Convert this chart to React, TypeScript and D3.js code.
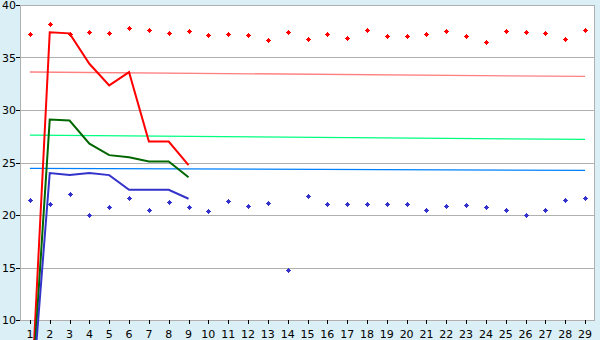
import React from "react";
import * as d3 from "d3";

const categories: number[] = Array.from({ length: 29 }, (_, i) => i + 1);
const yTicks: number[] = [10, 15, 20, 25, 30, 35, 40];

// scatter series (one value per category)
const redPoints: number[] = [
  37.2, 38.16, 37.2, 37.4, 37.3, 37.8, 37.6, 37.3, 37.5, 37.11,
  37.2, 37.11, 36.64, 37.4, 36.73, 37.2, 36.83, 37.59, 37.02, 37.02,
  37.2, 37.5, 37.0, 36.5, 37.5, 37.4, 37.3, 36.8, 37.6,
];
const bluePoints: number[] = [
  21.4, 21.05, 22.0, 20.0, 20.8, 21.6, 20.45, 21.2, 20.8, 20.35,
  21.3, 20.83, 21.11, 14.73, 21.78, 21.02, 21.02, 21.02, 21.02, 21.02,
  20.45, 20.9, 21.0, 20.8, 20.45, 20.0, 20.45, 21.4, 21.6,
];

// line series (categories 1..9)
const lineCategories: number[] = [1, 2, 3, 4, 5, 6, 7, 8, 9];
const redLine: number[] = [0, 37.4, 37.3, 34.4, 32.35, 33.6, 27.0, 27.0, 24.76];
const greenLine: number[] = [0, 29.1, 29.0, 26.8, 25.7, 25.5, 25.1, 25.1, 23.6];
const blueLine: number[] = [0, 24.0, 23.8, 24.0, 23.8, 22.4, 22.4, 22.4, 21.55];

// trend lines (value at first and last category)
const redTrend: number[] = [33.62, 33.2];
const greenTrend: number[] = [27.6, 27.2];
const blueTrend: number[] = [24.45, 24.25];

const W = 600;
const H = 340;
const left = 20;
const right = 595;
const top = 5;
const bottom = 320;

const x = d3.scalePoint<number>().domain(categories).range([left, right]).padding(0.5);
const y = d3.scaleLinear().domain([10, 40]).range([bottom, top]);

// plus marker: 3x3 centre with 1px arms, 5x5 overall
const markerPath =
  "M-0.5,-2.5h1v1h1v1h1v1h-1v1h-1v1h-1v-1h-1v-1h-1v-1h1v-1h1z";

export default function App() {
  const line = d3
    .line<number>()
    .x((_, i) => x(lineCategories[i]) as number)
    .y((d) => y(d));

  const trend = (vals: number[], color: string, key: string) => (
    <line
      key={key}
      x1={x(categories[0]) as number}
      x2={x(categories[categories.length - 1]) as number}
      y1={y(vals[0])}
      y2={y(vals[1])}
      stroke={color}
      strokeWidth={1.3}
    />
  );

  const font = "'DejaVu Sans', Verdana, sans-serif";
  const px = (v: number) => Math.round(v) + 0.5;

  return (
    <div style={{ position: "fixed", left: 0, top: 0, width: W, height: H }}>
      <svg width={W} height={H} style={{ display: "block" }}>
        <rect x={0} y={0} width={W} height={H} fill="#daeff6" />
        <rect x={left} y={top} width={right - left} height={bottom - top} fill="#ffffff" />
        {/* grid */}
        {yTicks.map((t) => (
          <line
            key={"g" + t}
            x1={left}
            x2={right}
            y1={px(y(t))}
            y2={px(y(t))}
            stroke="#b0b0b0"
            strokeWidth={1}
          />
        ))}
        <rect
          x={left + 0.5}
          y={top + 0.5}
          width={right - left - 1}
          height={bottom - top}
          fill="none"
          stroke="#b0b0b0"
          strokeWidth={1}
        />
        {/* y ticks */}
        {yTicks.map((t) => (
          <g key={"yt" + t}>
            <line x1={16} x2={left} y1={px(y(t))} y2={px(y(t))} stroke="#000" strokeWidth={1} />
            <text
              x={16}
              y={y(t) + 4}
              textAnchor="end"
              fontFamily={font}
              fontSize={11}
              fill="#000"
            >
              {t}
            </text>
          </g>
        ))}
        {/* x ticks */}
        {categories.map((c) => (
          <g key={"xt" + c}>
            <line
              x1={px(x(c) as number)}
              x2={px(x(c) as number)}
              y1={bottom}
              y2={bottom + 4}
              stroke="#000"
              strokeWidth={1}
            />
            <text
              x={x(c) as number}
              y={338}
              textAnchor="middle"
              fontFamily={font}
              fontSize={11}
              fill="#000"
            >
              {c}
            </text>
          </g>
        ))}
        {/* trend lines */}
        {trend(redTrend, "#ff8080", "tr")}
        {trend(greenTrend, "#00ff80", "tg")}
        {trend(blueTrend, "#0080ff", "tb")}
        {/* series lines */}
        <path d={line(redLine) || ""} fill="none" stroke="#ff0000" strokeWidth={2} />
        <path d={line(greenLine) || ""} fill="none" stroke="#006600" strokeWidth={2} />
        <path d={line(blueLine) || ""} fill="none" stroke="#3333cc" strokeWidth={2} />
        {/* scatter markers */}
        {redPoints.map((v, i) => (
          <path
            key={"rp" + i}
            d={markerPath}
            transform={`translate(${px(x(categories[i]) as number)},${px(y(v))})`}
            fill="#ff0000"
          />
        ))}
        {bluePoints.map((v, i) => (
          <path
            key={"bp" + i}
            d={markerPath}
            transform={`translate(${px(x(categories[i]) as number)},${px(y(v))})`}
            fill="#3333cc"
          />
        ))}
      </svg>
    </div>
  );
}
